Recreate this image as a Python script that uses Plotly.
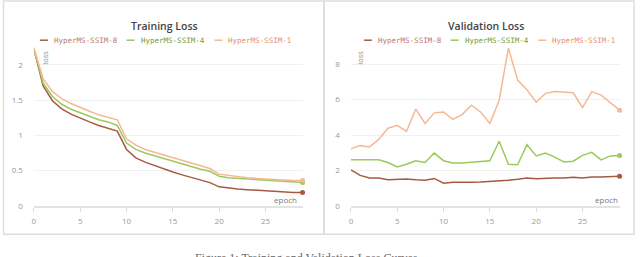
import plotly.graph_objects as go

epochs = list(range(30))
series_names = ["HyperMS-SSIM-8", "HyperMS-SSIM-4", "HyperMS-SSIM-1"]

train_ssim8 = [2.22, 1.70, 1.49, 1.375, 1.30, 1.24, 1.19, 1.14, 1.10, 1.06,
               0.80, 0.68, 0.62, 0.57, 0.52, 0.48, 0.44, 0.40, 0.36, 0.33,
               0.27, 0.25, 0.24, 0.23, 0.22, 0.21, 0.205, 0.20, 0.19, 0.19]
train_ssim4 = [2.22, 1.74, 1.55, 1.44, 1.37, 1.32, 1.27, 1.22, 1.19, 1.14,
               0.89, 0.80, 0.75, 0.71, 0.67, 0.64, 0.60, 0.56, 0.52, 0.49,
               0.42, 0.40, 0.39, 0.38, 0.37, 0.36, 0.35, 0.35, 0.34, 0.33]
train_ssim1 = [2.24, 1.80, 1.62, 1.52, 1.45, 1.39, 1.34, 1.29, 1.25, 1.22,
               0.95, 0.86, 0.80, 0.76, 0.72, 0.69, 0.65, 0.61, 0.57, 0.53,
               0.45, 0.43, 0.41, 0.40, 0.39, 0.38, 0.37, 0.37, 0.36, 0.36]

val_ssim8 = [2.03, 1.72, 1.58, 1.57, 1.47, 1.50, 1.52, 1.47, 1.45, 1.55,
             1.28, 1.33, 1.32, 1.33, 1.35, 1.37, 1.43, 1.45, 1.50, 1.57,
             1.53, 1.57, 1.57, 1.58, 1.62, 1.58, 1.63, 1.63, 1.65, 1.67]
val_ssim4 = [2.60, 2.60, 2.57, 2.60, 2.45, 2.20, 2.35, 2.55, 2.45, 2.98,
             2.55, 2.42, 2.42, 2.45, 2.50, 2.55, 3.65, 2.35, 2.32, 3.45,
             2.82, 2.98, 2.75, 2.48, 2.52, 2.85, 3.02, 2.60, 2.82, 2.85]
val_ssim1 = [3.22, 3.40, 3.32, 3.75, 4.38, 4.55, 4.20, 5.47, 4.65, 5.25,
             5.30, 4.88, 5.15, 5.68, 5.30, 4.65, 5.95, 8.90, 7.10, 6.55,
             5.85, 6.35, 6.45, 6.42, 6.38, 5.55, 6.45, 6.25, 5.80, 5.40]

y_ticks_train = [0, 0.5, 1, 1.5, 2]
y_ticks_val = [0, 2, 4, 6, 8]
x_ticks = [0, 5, 10, 15, 20, 25]

line_colors = ["#a65a44", "#9cc95c", "#f5b895"]
text_colors = ["#c07a68", "#6f9e3c", "#e8906a"]

W, H = 640, 257


def px(x):
    return x / W


def py(y):
    return (H - y) / H


fig = go.Figure()

panels = [
    ("x", "y", [train_ssim8, train_ssim4, train_ssim1]),
    ("x2", "y2", [val_ssim8, val_ssim4, val_ssim1]),
]
for xa, ya, data in panels:
    for i, vals in enumerate(data):
        fig.add_trace(go.Scatter(
            x=epochs, y=vals, xaxis=xa, yaxis=ya, mode="lines",
            line=dict(color=line_colors[i], width=1.5),
            showlegend=False, hoverinfo="skip"))
        fig.add_trace(go.Scatter(
            x=[epochs[-1]], y=[vals[-1]], xaxis=xa, yaxis=ya, mode="markers",
            marker=dict(color=line_colors[i], size=5),
            showlegend=False, hoverinfo="skip", cliponaxis=False))

tickfont = dict(family="Open Sans", size=8, color="#999999")
common_x = dict(range=[0, 29], tickvals=x_ticks, showgrid=False, zeroline=False,
                showline=True, linecolor="#e3e3e3", linewidth=2,
                ticks="outside", ticklen=4, tickcolor="#dddddd",
                tickfont=tickfont, ticklabelstandoff=2)
common_y = dict(showgrid=True, gridcolor="#f1f1f1", gridwidth=1, zeroline=False,
                showline=False, ticks="", tickfont=tickfont, ticklabelstandoff=10)

fig.update_layout(
    width=W, height=H, autosize=False,
    margin=dict(l=0, r=0, t=0, b=0),
    paper_bgcolor="white", plot_bgcolor="white",
    xaxis=dict(domain=[px(32), px(301.5)], anchor="y", **common_x),
    yaxis=dict(domain=[py(210), py(44)], anchor="x", range=[0, 166 / 72],
               tickvals=y_ticks_train, ticktext=["0", "0.5", "1", "1.5", "2"], **common_y),
    xaxis2=dict(domain=[px(350), px(619.5)], anchor="y2", **common_x),
    yaxis2=dict(domain=[py(210), py(44)], anchor="x2", range=[0, 166 / 18.08],
                tickvals=y_ticks_val, **common_y),
)

shapes = []
annotations = []

# panel boxes
for x0, x1 in [(1.5, 323), (323, 634)]:
    shapes.append(dict(type="rect", xref="paper", yref="paper",
                       x0=px(x0), x1=px(x1), y0=py(239), y1=py(1),
                       line=dict(color="#dedede", width=1.5)))

titles = [("Training Loss", 162.7), ("Validation Loss", 485.7)]
for t, cx in titles:
    annotations.append(dict(text=t, xref="paper", yref="paper", x=px(cx), y=py(27),
                            xanchor="center", yanchor="middle", showarrow=False,
                            font=dict(family="Open Sans", size=10.5, color="#444444", weight=600)))

legend_text_x = [50, 137, 225]
for offset in [0, 325]:
    for i, name in enumerate(series_names):
        tx = legend_text_x[i] + offset
        shapes.append(dict(type="line", xref="paper", yref="paper",
                           x0=px(tx - 12), x1=px(tx - 4), y0=py(41), y1=py(41),
                           line=dict(color=line_colors[i], width=1.5)))
        annotations.append(dict(text=name, xref="paper", yref="paper", x=px(tx), y=py(41.5),
                                xanchor="left", yanchor="middle", showarrow=False,
                                font=dict(family="DejaVu Sans Mono", size=7.5, color=text_colors[i])))

for lx, ex in [(43, 298), (359, 620)]:
    annotations.append(dict(text="loss", xref="paper", yref="paper", x=px(lx), y=py(59),
                            xanchor="center", yanchor="middle", showarrow=False, textangle=-90,
                            font=dict(family="Open Sans", size=7.5, color="#888888")))
    annotations.append(dict(text="epoch", xref="paper", yref="paper", x=px(ex), y=py(203),
                            xanchor="right", yanchor="middle", showarrow=False,
                            font=dict(family="Open Sans", size=8, color="#777777")))

annotations.append(dict(text="Figure 1: Training and Validation Loss Curves",
                        xref="paper", yref="paper", x=px(305), y=py(254),
                        xanchor="center", yanchor="top", showarrow=False,
                        font=dict(family="Liberation Serif", size=12, color="#666666")))

fig.update_layout(shapes=shapes, annotations=annotations)
fig.write_html("out.html", config={"displayModeBar": False},
               post_script="document.body.style.margin='0';document.body.style.overflow='hidden';")
